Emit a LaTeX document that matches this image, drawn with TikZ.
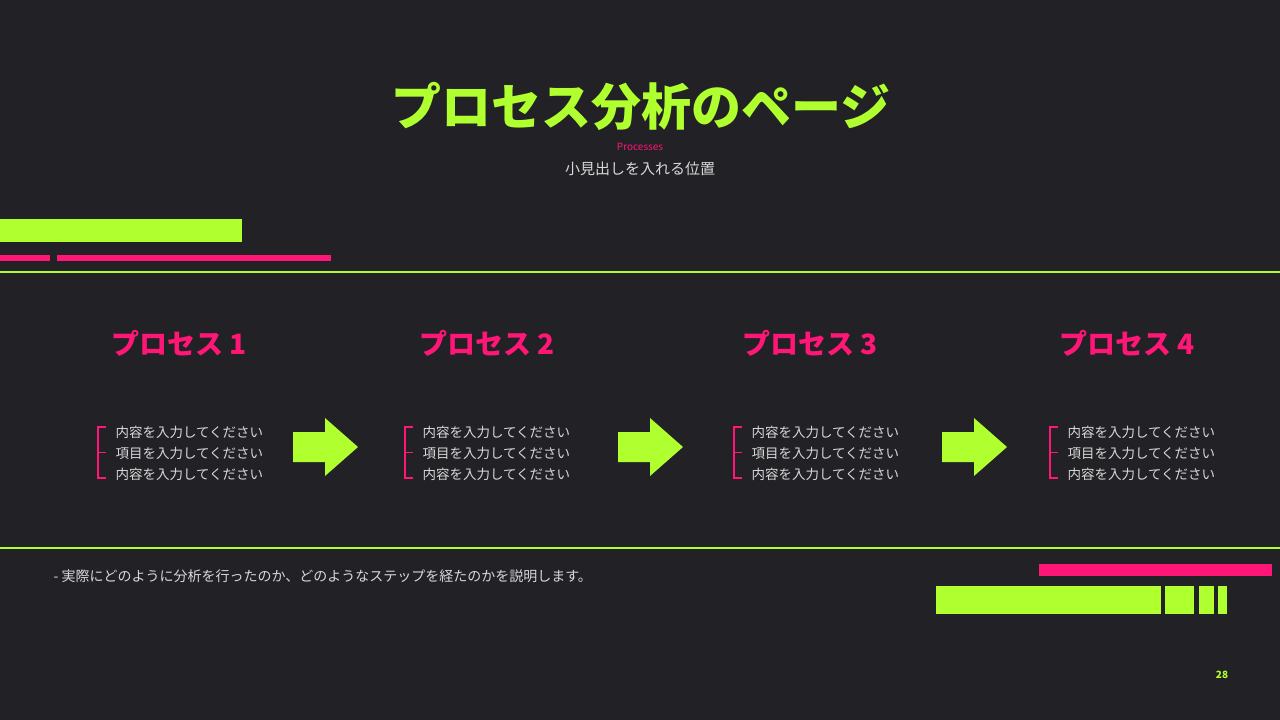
\documentclass[tikz,border=0pt]{standalone}
\usepackage{fontspec}
\setmainfont{Noto Sans CJK JP}
\definecolor{bg}{HTML}{222125}
\definecolor{lime}{HTML}{B0FF2E}
\definecolor{pink}{HTML}{FF1677}
\definecolor{txt}{HTML}{D8D8D8}
\begin{document}
\begin{tikzpicture}[x=1pt,y=-1pt,
  hdr/.style={font=\fontsize{28}{30}\selectfont\bfseries,text=pink},
  itm/.style={font=\fontsize{13.5}{21}\selectfont,text=txt,anchor=west,align=left},
  arrowshape/.style={fill=lime},
  bracket/.style={draw=pink,line width=1.3pt}]
\fill[bg] (0,0) rectangle (1280,720);
\useasboundingbox (0,0) rectangle (1280,720);
\node[font=\fontsize{50}{52}\selectfont\bfseries,text=lime] (title) at (641,106) {プロセス分析のページ};
\node[font=\fontsize{10}{11}\selectfont,text=pink] (sub1) at (640,147) {Processes};
\node[font=\fontsize{15}{16}\selectfont,text=txt] (sub2) at (640,169) {小見出しを入れる位置};
\fill[lime] (0,219) rectangle (242,242);
\fill[pink] (0,255) rectangle (50,261);
\fill[pink] (57,255) rectangle (331,261);
\draw[lime,line width=1.5pt] (0,272) -- (1280,272);
\draw[lime,line width=1.5pt] (0,548) -- (1280,548);
\foreach \c/\n in {179/1,487/2,810/3,1127/4}{
  \node[hdr] (h\n) at (\c,343) {プロセス \n};
}
\foreach \x/\n in {98/1,405/2,734/3,1050/4}{
  \draw[bracket] (\x+8,427) -- (\x,427) -- (\x,478) -- (\x+8,478);
  \draw[bracket] (\x,452.5) -- (\x+8,452.5);
  \node[itm] (t\n) at (\x+14,453) {内容を入力してください\\項目を入力してください\\内容を入力してください};
}
\foreach \x/\n in {293/1,618/2,942/3}{
  \fill[arrowshape] (\x,432) -- (\x+32,432) -- (\x+32,418) -- (\x+65,447) -- (\x+32,476) -- (\x+32,462) -- (\x,462) -- cycle;
}
\node[font=\fontsize{14}{15}\selectfont,text=txt,anchor=west] (foot) at (50,576) {- 実際にどのように分析を行ったのか、どのようなステップを経たのかを説明します。};
\fill[pink] (1039,564) rectangle (1272,576);
\fill[lime] (936,586) rectangle (1161,614);
\fill[lime] (1165,586) rectangle (1194,614);
\fill[lime] (1199,586) rectangle (1214,614);
\fill[lime] (1218,586) rectangle (1227,614);
\node[font=\fontsize{10}{11}\selectfont\bfseries,text=lime] (pg) at (1222,675) {28};
\end{tikzpicture}
\end{document}
